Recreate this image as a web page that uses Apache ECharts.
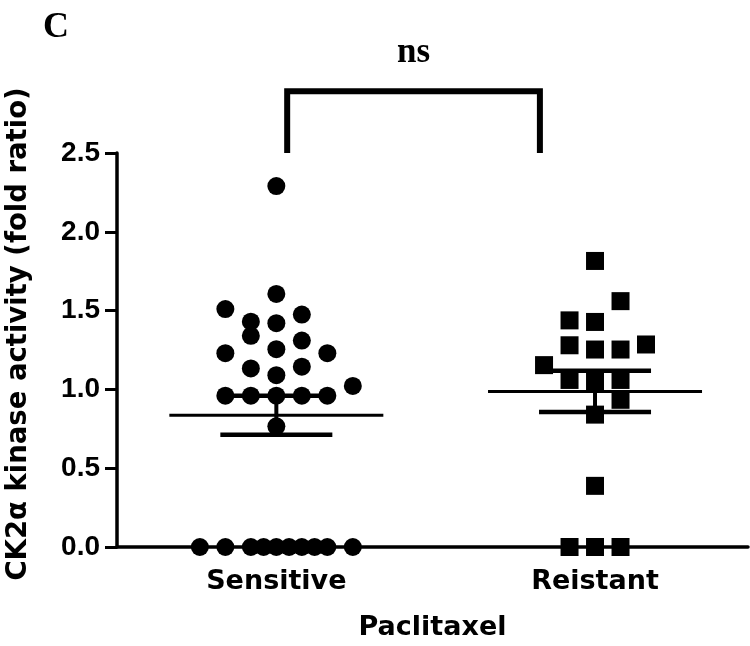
<!DOCTYPE html>
<html><head><meta charset="utf-8">
<script src="https://cdn.jsdelivr.net/npm/echarts@6/dist/echarts.min.js"></script>
<style>html,body{margin:0;padding:0;background:#fff}#c{width:750px;height:646px}</style>
</head><body><div id="c"></div>
<script>
// ---- data ----
const categories = ['Sensitive', 'Reistant'];
const sensitiveValues = [2.29, 1.606, 1.51, 1.43, 1.34, 1.42, 1.475, 1.31, 1.255, 1.23, 1.23, 1.133, 1.09, 1.144, 1.022,
  0.96, 0.96, 0.96, 0.96, 0.96, 0.766,
  0, 0, 0, 0, 0, 0, 0, 0, 0, 0];
const sensitiveSlots = [0, 0, -2, -1, -1, 0, 1, 1, 0, -2, 2, -1, 0, 1, 3,
  -2, -1, 0, 1, 2, 0,
  -3, -2, -1, -0.5, 0, 0.5, 1, 1.5, 2, 3];
const resistantValues = [1.815, 1.56, 1.438, 1.428, 1.28, 1.253, 1.253, 1.285, 1.154, 1.06, 1.05, 1.06, 0.934, 0.84, 0.388, 0, 0, 0];
const resistantSlots = [0, 1, -1, 0, -1, 0, 1, 2, -2, -1, 0, 1, 1, 0, 0, -1, 0, 1];
const groupMeans = [0.836, 0.987];
const groupSEM = [0.123, 0.131];
const yTicks = [0, 0.5, 1.0, 1.5, 2.0, 2.5];
const bracketX = [1.034, 1.827];
const bracketY = [2.5, 2.892];
const bracketLabel = 'ns';
const panelLabel = 'C';
const yTitle = 'CK2α kinase activity (fold ratio)';
const xTitle = 'Paclitaxel';

// ---- build ----
const SLOT = 0.08;
const sensData = sensitiveValues.map((v, i) => [1 + sensitiveSlots[i] * SLOT, v]);
const resData = resistantValues.map((v, i) => [2 + resistantSlots[i] * SLOT, v]);
const statData = categories.map((c, i) => [i + 1, groupMeans[i], groupSEM[i]]);

const chart = echarts.init(document.getElementById('c'), null, {renderer: 'canvas'});
const labelFont = '"DejaVu Sans", sans-serif';
chart.setOption({
  animation: false,
  backgroundColor: '#fff',
  grid: {left: 117, right: 2, top: 153, bottom: 96, containLabel: false},
  xAxis: {
    type: 'value', min: 0.5, max: 2.48,
    splitLine: {show: false},
    axisLine: {show: true, onZero: false, lineStyle: {color: '#000', width: 3.5}},
    axisTick: {show: true, customValues: [1, 2], length: 8, lineStyle: {color: '#000', width: 2}},
    axisLabel: {show: true, customValues: [1, 2], margin: 21,
      formatter: v => categories[Math.round(v) - 1] || '',
      color: '#000', fontFamily: labelFont, fontWeight: 'bold', fontSize: 27},
    name: xTitle, nameLocation: 'middle', nameGap: 67,
    nameTextStyle: {color: '#000', fontFamily: labelFont, fontWeight: 'bold', fontSize: 27}
  },
  yAxis: {
    type: 'value', min: 0, max: 2.5, interval: 0.5,
    splitLine: {show: false},
    axisLine: {show: true, lineStyle: {color: '#000', width: 3.5}},
    axisTick: {show: true, length: 12, lineStyle: {color: '#000', width: 3}},
    axisLabel: {margin: 17, color: '#000', fontFamily: '"Liberation Sans", Arial, sans-serif', fontWeight: 'bold', fontSize: 28,
      formatter: v => v.toFixed(1)}
  },
  graphic: [
    {type: 'text', left: 43, top: 10, style: {text: panelLabel, font: 'bold 36px "Liberation Serif", serif', fill: '#000'}},
    {type: 'text', x: 19, y: 334, rotation: Math.PI / 2,
      style: {text: yTitle, font: 'bold 27.5px "DejaVu Sans", sans-serif', fill: '#000', align: 'center', verticalAlign: 'middle'}}
  ],
  series: [
    {
      type: 'custom', name: 'meanSEM', data: statData, z: 3,
      renderItem: (params, api) => {
        const x = api.value(0), m = api.value(1), s = api.value(2);
        const c = api.coord([x, m]), hi = api.coord([x, m + s]), lo = api.coord([x, m - s]);
        const st = w => ({stroke: '#000', lineWidth: w, lineCap: 'butt'});
        return {type: 'group', children: [
          {type: 'line', shape: {x1: c[0] - 107, y1: c[1], x2: c[0] + 107, y2: c[1]}, style: st(3)},
          {type: 'line', shape: {x1: c[0], y1: hi[1], x2: c[0], y2: lo[1]}, style: st(4)},
          {type: 'line', shape: {x1: c[0] - 56, y1: hi[1], x2: c[0] + 56, y2: hi[1]}, style: st(4.5)},
          {type: 'line', shape: {x1: c[0] - 56, y1: lo[1], x2: c[0] + 56, y2: lo[1]}, style: st(4.5)}
        ]};
      }
    },
    {type: 'scatter', name: categories[0], data: sensData, symbol: 'circle', symbolSize: 18,
      itemStyle: {color: '#000', opacity: 1}, z: 4, clip: false},
    {type: 'scatter', name: categories[1], data: resData, symbol: 'rect', symbolSize: 18,
      itemStyle: {color: '#000', opacity: 1}, z: 4, clip: false},
    {
      type: 'custom', name: 'bracket', data: [[bracketX[0], bracketY[0], bracketX[1], bracketY[1]]], clip: false, z: 5,
      renderItem: (params, api) => {
        const a = api.coord([api.value(0), api.value(1)]);
        const b = api.coord([api.value(2), api.value(3)]);
        return {type: 'group', children: [
          {type: 'polyline', shape: {points: [[a[0], a[1]], [a[0], b[1]], [b[0], b[1]], [b[0], a[1]]]},
            style: {stroke: '#000', lineWidth: 6, fill: null, lineJoin: 'miter'}},
          {type: 'text', x: (a[0] + b[0]) / 2, y: b[1] - 21,
            style: {text: bracketLabel, font: 'bold 35px "Liberation Serif", serif', fill: '#000', align: 'center', verticalAlign: 'bottom'}}
        ]};
      }
    }
  ]
});
</script>
</body></html>
